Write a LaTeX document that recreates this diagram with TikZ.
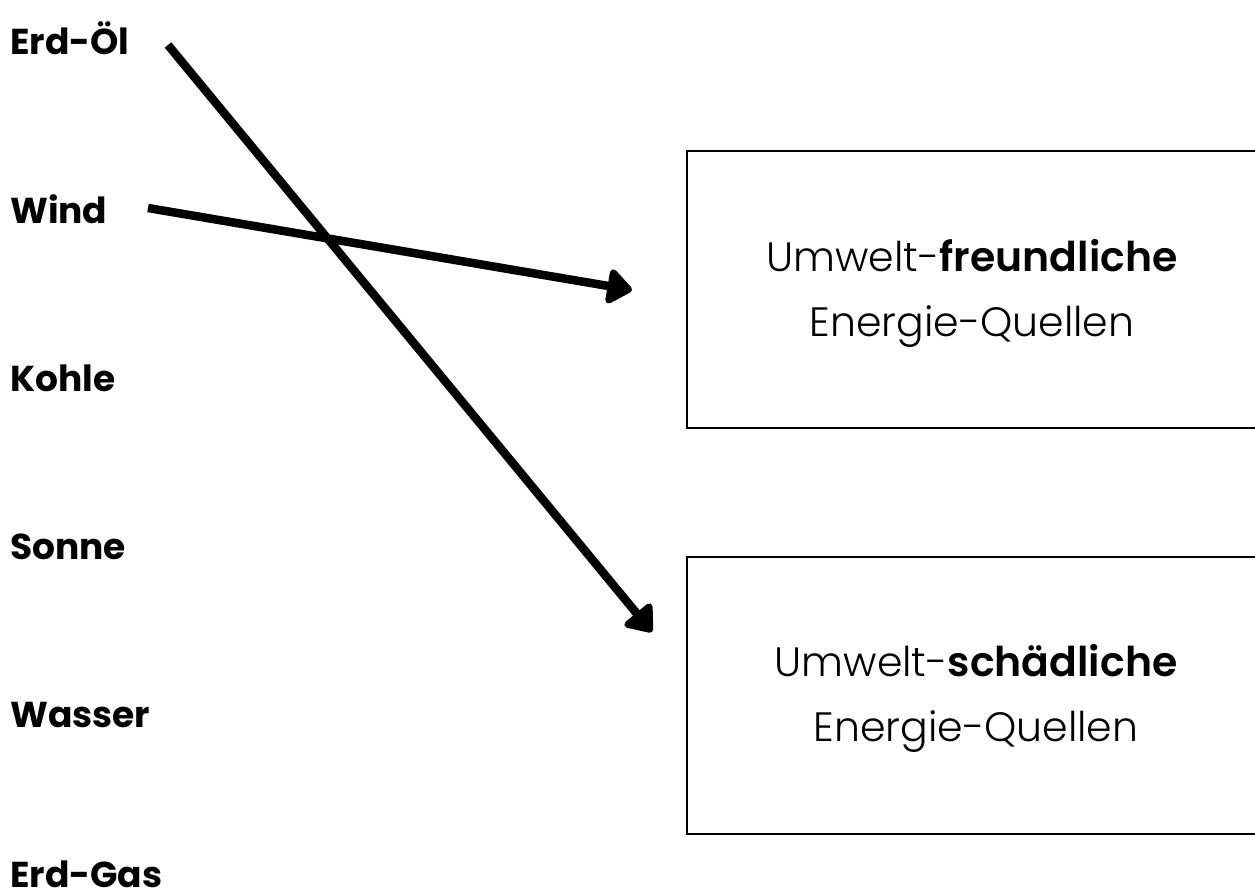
\documentclass[tikz,border=0pt]{standalone}
\usepackage{fontspec}
\setmainfont{Poppins}[BoldFont={Poppins Bold}]
\newfontfamily\lightfont{Poppins Light}[BoldFont={Poppins SemiBold}]
\usetikzlibrary{arrows.meta}
\begin{document}
\begin{tikzpicture}[x=1pt,y=-1pt,
  src/.style={anchor=base west,inner sep=0pt,text depth=0pt,font=\fontsize{36}{40}\selectfont\bfseries},
  boxtext/.style={align=center,inner sep=0pt,font=\lightfont\fontsize{41}{65}\selectfont},
  frame/.style={draw=black,line width=1.3pt},
  arr/.style={line width=8.5pt,-{Triangle[round,length=27pt,width=40pt]}}]
\useasboundingbox (0,0) rectangle (1255,896);
\clip (0,0) rectangle (1255,896);
\node[src] (oel) at (10,55) {Erd-Öl};
\node[src] (wind) at (10,223) {Wind};
\node[src] (kohle) at (10,391) {Kohle};
\node[src] (sonne) at (10,559) {Sonne};
\node[src] (wasser) at (10,727) {Wasser};
\node[src] (gas) at (10,887) {Erd-Gas};
\draw[frame] (687,151) rectangle (1262,428);
\draw[frame] (687,557) rectangle (1262,834);
\draw[line width=2pt] (687,428) -- (1262,428);
\draw[line width=2pt] (687,834) -- (1262,834);
\node[boxtext] (gut) at (972,293) {Umwelt-\textbf{freundliche}\\Energie-Quellen};
\node[boxtext] (schlecht) at (976,698) {Umwelt-\textbf{schädliche}\\Energie-Quellen};
\coordinate (oelS) at (168,45);
\coordinate (oelE) at (652,632);
\coordinate (windS) at (148,208);
\coordinate (windE) at (632,290);
\draw[arr] (oelS) -- (oelE);
\draw[arr] (windS) -- (windE);
\end{tikzpicture}
\end{document}
